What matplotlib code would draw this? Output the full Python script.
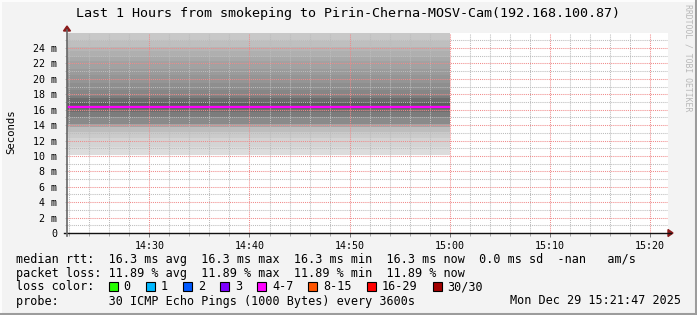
#!/usr/bin/env python3
"""
SmokePing style latency graph (last hour) rebuilt with matplotlib.
Saves out.png at 697x315.
"""

import matplotlib; matplotlib.use("Agg")
import matplotlib.pyplot as plt
from matplotlib.lines import Line2D
from matplotlib.patches import Rectangle, Polygon

# ---- data ----
# time in minutes of day; window is 14:21:47 .. 15:21:47
t_start = 14 * 60 + 21 + 47 / 60
t_end = t_start + 60
data_times = [t_start, 15 * 60]          # samples cover up to 15:00

# sorted ping rtts (ms) forming the smoke band, bottom -> top
smoke_edges = [10.1, 11.2, 12.3, 13.1, 13.8, 14.2, 15.1, 15.7, 16.1, 16.6,
               17.0, 17.5, 17.8, 18.6, 19.5, 20.5, 21.3, 22.3, 22.9, 23.6,
               24.1, 24.9, 26.5]
smoke_grays = ["#dcdcdc", "#d4d4d4", "#cbcbcb", "#bdbdbd", "#a4a4a4",
               "#8a8a8a", "#7c7c7c", "#6e6e6e", "#626262", "#5c5c5c",
               "#6c6c6c", "#7c7c7c", "#868686", "#8e8e8e", "#959595",
               "#9b9b9b", "#a2a2a2", "#a8a8a8", "#afafaf", "#b6b6b6",
               "#bfbfbf", "#c8c8c8"]
median_rtt = [16.3, 16.3]

xtick_vals = [870, 880, 890, 900, 910, 920]
xtick_labels = ["14:30", "14:40", "14:50", "15:00", "15:10", "15:20"]
ytick_vals = list(range(0, 25, 2))
ytick_labels = ["0"] + [f"{v} m" for v in ytick_vals[1:]]

loss_labels = ["0", "1", "2", "3", "4-7", "8-15", "16-29", "30/30"]
loss_colors = ["#26ff00", "#00b8ff", "#0059ff", "#7e00ff", "#ff00ff",
               "#ff5500", "#ff0000", "#a10000"]

title = "Last 1 Hours from smokeping to Pirin-Cherna-MOSV-Cam(192.168.100.87)"
line_rtt = ("median rtt:  16.3 ms avg  16.3 ms max  16.3 ms min  "
            "16.3 ms now  0.0 ms sd  -nan   am/s")
line_loss = "packet loss: 11.89 % avg  11.89 % max  11.89 % min  11.89 % now"
line_probe = "probe:       30 ICMP Echo Pings (1000 Bytes) every 3600s"
stamp = "Mon Dec 29 15:21:47 2025"

W, H = 697, 315
MONO = "DejaVu Sans Mono"


def fx(px):
    return px / W


def fy(py):
    return 1 - py / H


fig = plt.figure(figsize=(W / 100, H / 100), dpi=100, facecolor="#f3f3f3")

# 3d-ish frame
fig.add_artist(Line2D([fx(0.5), fx(W - 1.5)], [fy(0.5), fy(0.5)], color="#fcfcfc", lw=1.5))
fig.add_artist(Line2D([fx(0.5), fx(0.5)], [fy(0.5), fy(H - 1.5)], color="#fcfcfc", lw=1.5))
fig.add_artist(Line2D([fx(W - 1.5), fx(W - 1.5)], [fy(0.5), fy(H - 1.5)], color="#9c9c9c", lw=2.2))
fig.add_artist(Line2D([fx(0.5), fx(W - 1.5)], [fy(H - 1.5), fy(H - 1.5)], color="#9c9c9c", lw=2.2))

ax = fig.add_axes([fx(67), fy(233), fx(601), 200 / H])
ax.set_facecolor("white")

# smoke
for lo, hi, c in zip(smoke_edges[:-1], smoke_edges[1:], smoke_grays):
    ax.fill_between(data_times, [lo, lo], [hi, hi], color=c, lw=0, zorder=1)

ax.plot(data_times, median_rtt, color="#ff00ff", lw=1.6, zorder=5,
        solid_capstyle="butt")

ax.set_xlim(t_start, t_end)
ax.set_ylim(0, 25.95)

ax.set_xticks(xtick_vals)
ax.set_xticklabels(xtick_labels)
ax.set_xticks([m for m in range(862, 922, 2) if m % 10], minor=True)
ax.set_yticks(ytick_vals)
ax.set_yticklabels(ytick_labels)
ax.set_yticks(list(range(1, 26, 2)), minor=True)

for lab in ax.get_xticklabels() + ax.get_yticklabels():
    lab.set_family(MONO)
    lab.set_fontsize(7.2)
    lab.set_color("#000000")

ax.tick_params(axis="x", which="both", direction="out", color="#777777", width=0.7)
ax.tick_params(axis="x", which="major", length=3, pad=3)
ax.tick_params(axis="x", which="minor", length=2, color="#aaaaaa")
ax.tick_params(axis="y", which="both", direction="out", length=1.5,
               color="#bbbbbb", width=0.7, pad=5.5)

ax.grid(True, which="minor", color="#bcbcbc", lw=0.75, ls=(0, (1, 1)))
ax.grid(True, which="major", color="#f08a8a", lw=0.75, ls=(0, (1, 1)))
ax.set_axisbelow(False)
for s in ax.spines.values():
    s.set_visible(False)

# axis lines with arrow heads
fig.add_artist(Line2D([fx(64), fx(671)], [fy(233), fy(233)], color="#111111", lw=1.0))
fig.add_artist(Line2D([fx(67), fx(67)], [fy(236), fy(30)], color="#666666", lw=1.2))
fig.add_artist(Polygon([[fx(668), fy(229.5)], [fx(673), fy(233)], [fx(668), fy(236.5)]],
                       closed=True, color="#8b1a1a", transform=fig.transFigure))
fig.add_artist(Polygon([[fx(63.5), fy(31)], [fx(67), fy(26)], [fx(70.5), fy(31)]],
                       closed=True, color="#8b1a1a", transform=fig.transFigure))

# texts
fig.text(0.5, fy(13.5), title, ha="center", va="center", family=MONO, fontsize=9.6)
fig.text(fx(11), fy(132), "Seconds", rotation=90, ha="center", va="center",
         family=MONO, fontsize=7.7)
fig.text(fx(688), fy(4), "RRDTOOL / TOBI OETIKER", rotation=270, ha="center",
         va="top", family=MONO, fontsize=5.9, color="#b8b8b8")

fig.text(fx(16), fy(259.5), line_rtt, ha="left", va="center", family=MONO, fontsize=8.5)
fig.text(fx(16), fy(273.5), line_loss, ha="left", va="center", family=MONO, fontsize=8.5)
fig.text(fx(16), fy(287), "loss color:", ha="left", va="center", family=MONO, fontsize=8.5)
fig.text(fx(16), fy(301), line_probe, ha="left", va="center", family=MONO, fontsize=8.5)
fig.text(fx(681), fy(301), stamp, ha="right", va="center", family=MONO, fontsize=8.5)

char_w = 7.13
x = 108.5
for lab, col in zip(loss_labels, loss_colors):
    fig.add_artist(Rectangle((fx(x), fy(291)), fx(9), 9 / H, facecolor=col,
                             edgecolor="black", lw=0.8, transform=fig.transFigure))
    fig.text(fx(x + 15), fy(287), lab, ha="left", va="center", family=MONO, fontsize=8.5)
    x = x + 15 + len(lab) * char_w + 15

fig.savefig("out.png", dpi=100, facecolor=fig.get_facecolor())
